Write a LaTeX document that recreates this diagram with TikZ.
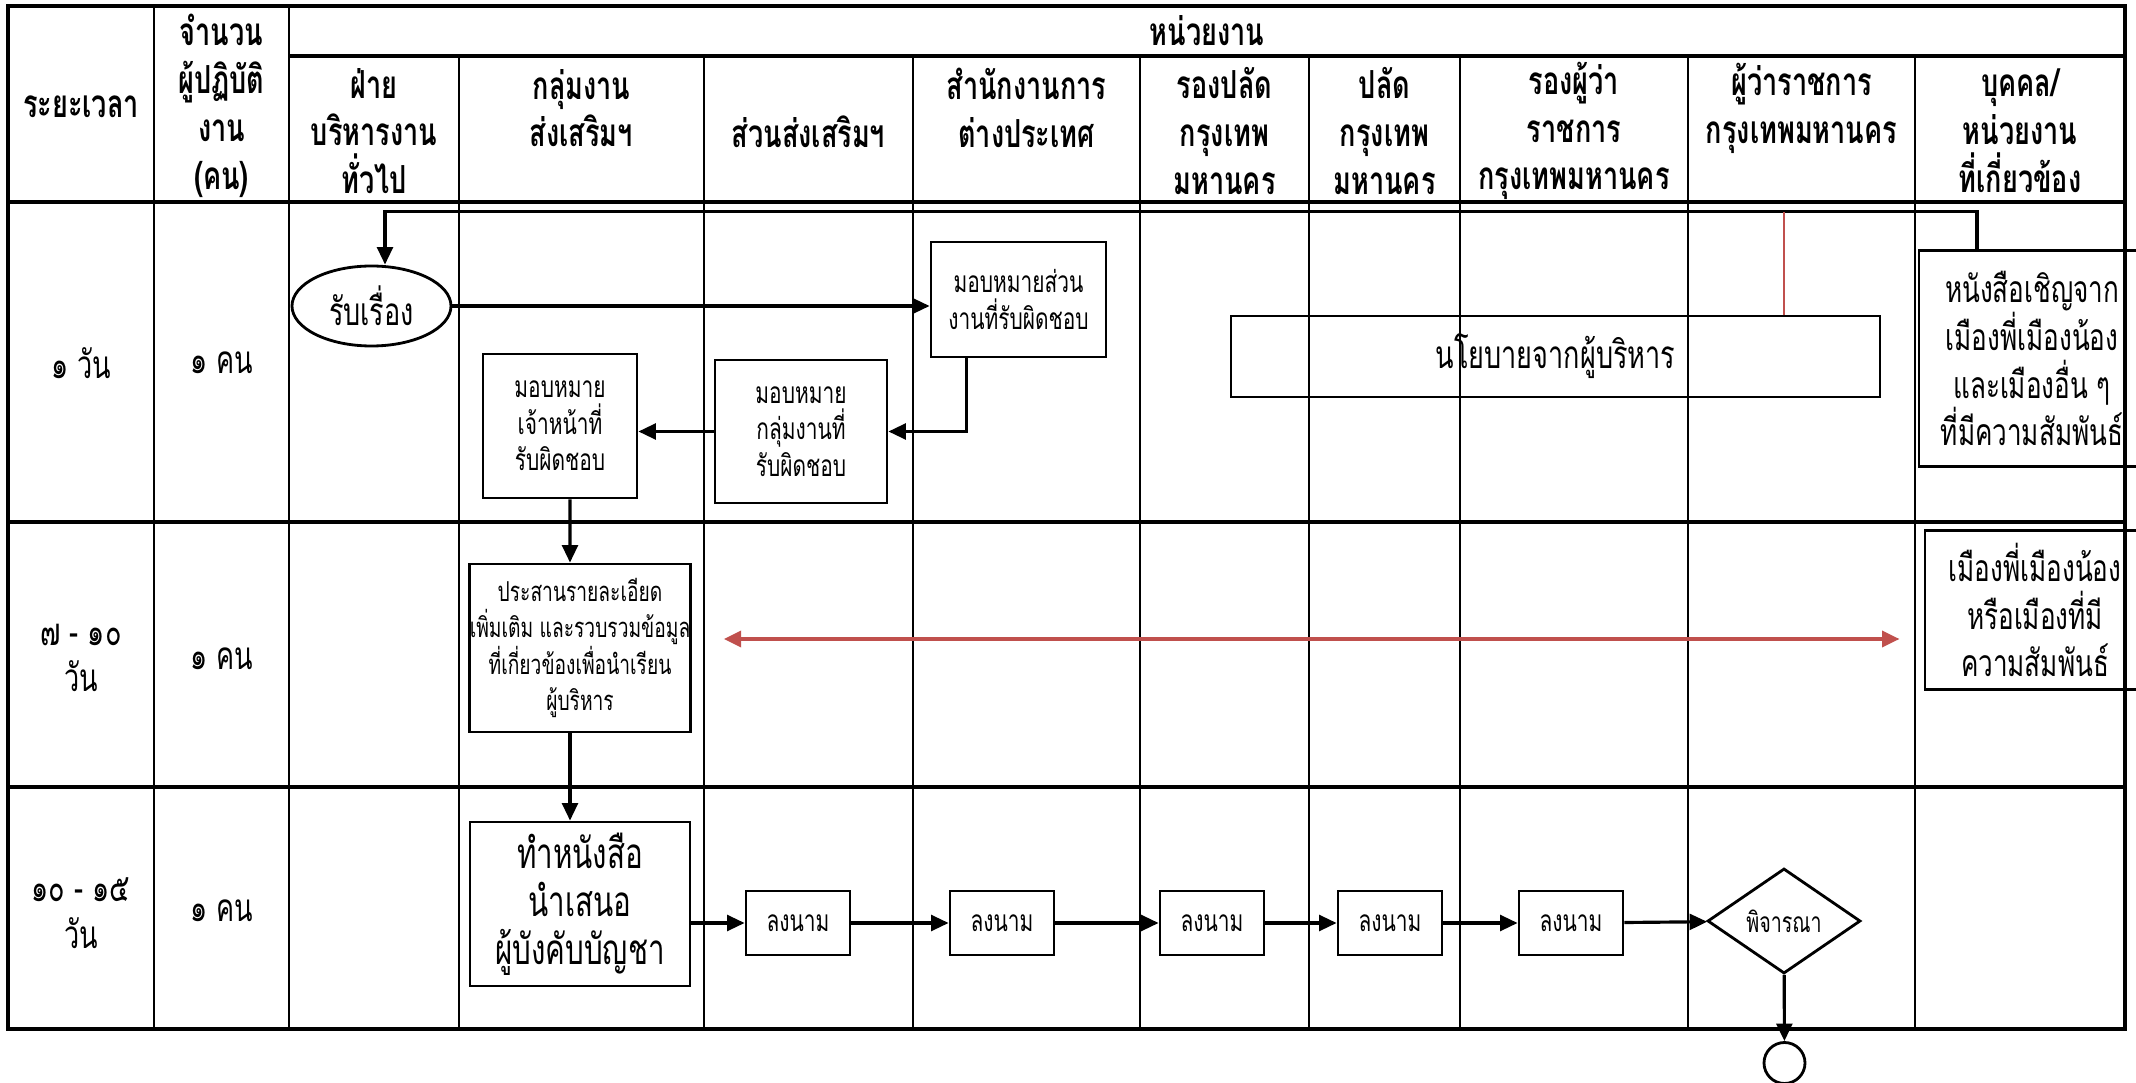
\documentclass[tikz,border=0pt]{standalone}
\usepackage{fontspec}
\setmainfont[Script=Thai,FakeStretch=0.70]{Loma}
\usetikzlibrary{arrows.meta,positioning,shapes.geometric}
\definecolor{linkred}{RGB}{192,80,77}

\begin{document}
\begin{tikzpicture}[
    box/.style={rectangle,draw,line width=0.8pt,align=center,inner sep=1pt},
    flow/.style={-{Triangle[length=5pt,width=4.5pt]},line width=0.9pt},
    redflow/.style={{Triangle[length=5pt,width=4.5pt]}-{Triangle[length=5pt,width=4.5pt]},linkred,line width=1.1pt},
    head/.style={font=\fontsize{11}{13.6}\selectfont\bfseries,align=center,inner sep=0pt},
    cell/.style={font=\fontsize{11}{13.2}\selectfont,align=center,inner sep=0pt},
    small/.style={font=\fontsize{8.5}{10.4}\selectfont},
    grid/.style={line width=0.6pt},
    frame/.style={line width=1.2pt}]

    \useasboundingbox (0,0) rectangle (21.36,-10.83);

    % Table frame and rows
    \draw[frame] (0.08,-0.06) rectangle (21.25,-10.29);
    \draw[frame] (2.89,-0.56) -- (21.25,-0.56);
    \draw[frame] (0.08,-2.02) -- (21.25,-2.02);
    \draw[frame] (0.08,-5.22) -- (21.25,-5.22);
    \draw[frame] (0.08,-7.87) -- (21.25,-7.87);

    % Columns
    \draw[grid] (1.54,-0.06) -- (1.54,-10.29);
    \draw[grid] (2.89,-0.06) -- (2.89,-10.29);
    \draw[grid] (4.59,-0.56) -- (4.59,-10.29);
    \draw[grid] (7.04,-0.56) -- (7.04,-10.29);
    \draw[grid] (9.13,-0.56) -- (9.13,-10.29);
    \draw[grid] (11.40,-0.56) -- (11.40,-10.29);
    \draw[grid] (13.09,-0.56) -- (13.09,-10.29);
    \draw[grid] (14.60,-0.56) -- (14.60,-10.29);
    \draw[grid] (16.88,-0.56) -- (16.88,-10.29);
    \draw[grid] (19.15,-0.56) -- (19.15,-10.29);

    % Header
    \node[head] (period) at (0.81,-1.07) {ระยะเวลา};
    \node[head] (staff) at (2.215,-1.06) {จำนวน\\ผู้ปฏิบัติ\\งาน\\(คน)};
    \node[head] (units) at (12.07,-0.31) {หน่วยงาน};
    \node[head] (dept1) at (3.74,-1.31) {ฝ่าย\\บริหารงาน\\ทั่วไป};
    \node[head] (dept2) at (5.815,-1.08) {กลุ่มงาน\\ส่งเสริมฯ};
    \node[head] (dept3) at (8.085,-1.32) {ส่วนส่งเสริมฯ};
    \node[head] (dept4) at (10.265,-1.08) {สำนักงานการ\\ต่างประเทศ};
    \node[head] (dept5) at (12.245,-1.31) {รองปลัด\\กรุงเทพ\\มหานคร};
    \node[head] (dept6) at (13.845,-1.31) {ปลัด\\กรุงเทพ\\มหานคร};
    \node[head] (dept7) at (15.74,-1.31) {รองผู้ว่า\\ราชการ\\กรุงเทพมหานคร};
    \node[head] (dept8) at (18.015,-1.08) {ผู้ว่าราชการ\\กรุงเทพมหานคร};
    \node[head] (dept9) at (20.20,-1.31) {บุคคล/\\หน่วยงาน\\ที่เกี่ยวข้อง};

    % Time and staff per row
    \node[cell] (day1) at (0.81,-3.63) {๑ วัน};
    \node[cell] (crew1) at (2.215,-3.63) {๑ คน};
    \node[cell] (day2) at (0.81,-6.58) {๗ - ๑๐\\วัน};
    \node[cell] (crew2) at (2.215,-6.59) {๑ คน};
    \node[cell] (day3) at (0.81,-9.13) {๑๐ - ๑๕\\วัน};
    \node[cell] (crew3) at (2.215,-9.11) {๑ คน};

    % Day 1
    \node[ellipse,draw,line width=0.8pt,minimum width=1.59cm,minimum height=0.80cm,inner sep=0pt,font=\fontsize{11}{13}\selectfont] (recv) at (3.715,-3.06) {รับเรื่อง};
    \node[box,small,minimum width=1.75cm,minimum height=1.15cm] (assignA) at (10.185,-2.995) {มอบหมายส่วน\\งานที่รับผิดชอบ};
    \node[box,small,minimum width=1.72cm,minimum height=1.43cm] (assignB) at (8.01,-4.315) {มอบหมาย\\กลุ่มงานที่\\รับผิดชอบ};
    \node[box,small,minimum width=1.54cm,minimum height=1.44cm] (assignC) at (5.60,-4.26) {มอบหมาย\\เจ้าหน้าที่\\รับผิดชอบ};
    \node[box,minimum width=6.49cm,minimum height=0.81cm,font=\fontsize{11}{13}\selectfont] (policy) at (15.555,-3.565) {นโยบายจากผู้บริหาร};
    \node[box,minimum width=2.26cm,minimum height=2.16cm,font=\fontsize{10.6}{13.6}\selectfont] (invite) at (20.32,-3.587) {หนังสือเชิญจาก\\เมืองพี่เมืองน้อง\\และเมืองอื่น ๆ\\ที่มีความสัมพันธ์};

    % Day 7 - 10
    \node[box,inner sep=0pt,minimum width=2.20cm,minimum height=1.68cm,font=\fontsize{7.8}{10.4}\selectfont] (coord) at (5.80,-6.48) {ประสานรายละเอียด\\เพิ่มเติม และรวบรวมข้อมูล\\ที่เกี่ยวข้องเพื่อนำเรียน\\ผู้บริหาร};
    \node[box,minimum width=2.20cm,minimum height=1.59cm,font=\fontsize{10.6}{13.4}\selectfont] (cities) at (20.35,-6.10) {เมืองพี่เมืองน้อง\\หรือเมืองที่มี\\ความสัมพันธ์};

    % Day 10 - 15
    \node[box,minimum width=2.20cm,minimum height=1.64cm,font=\fontsize{12}{13.6}\selectfont] (letter) at (5.80,-9.04) {ทำหนังสือ\\นำเสนอ\\ผู้บังคับบัญชา};
    \node[box,small,minimum width=1.04cm,minimum height=0.64cm] (sign1) at (7.98,-9.23) {ลงนาม};
    \node[box,small,minimum width=1.04cm,minimum height=0.64cm] (sign2) at (10.02,-9.23) {ลงนาม};
    \node[box,small,minimum width=1.04cm,minimum height=0.64cm] (sign3) at (12.12,-9.23) {ลงนาม};
    \node[box,small,minimum width=1.04cm,minimum height=0.64cm] (sign4) at (13.90,-9.23) {ลงนาม};
    \node[box,small,minimum width=1.04cm,minimum height=0.64cm] (sign5) at (15.71,-9.23) {ลงนาม};
    \node[diamond,draw,line width=0.8pt,minimum width=1.53cm,minimum height=1.05cm,inner sep=0pt,font=\fontsize{8}{10}\selectfont] (decide) at (17.84,-9.21) {พิจารณา};
    \node[circle,draw,line width=0.8pt,minimum size=0.41cm,inner sep=0pt] (endc) at (17.845,-10.63) {};

    % Invitation comes back to the start
    \coordinate (fbR) at (19.77,-2.117);
    \coordinate (fbL) at (3.85,-2.117);
    \draw[flow] (invite.north -| fbR) -- (fbR) -- (fbL) -- (fbL |- recv.north);
    \draw[linkred,line width=0.5pt] (policy.north -| decide) -- (fbL -| decide);

    % Flow arrows
    \draw[flow] (recv.east) -- (recv.east -| assignA.west);
    \draw[flow] ([xshift=-5.2mm]assignA.south) |- (assignB.east);
    \draw[flow] (assignB.west) -- (assignB.west -| assignC.east);
    \draw[flow] ([xshift=1mm]assignC.south) -- ([xshift=-1mm]coord.north);
    \draw[flow] ([xshift=-1mm]coord.south) -- ([xshift=-1mm]letter.north);
    \draw[redflow,shorten <=3.2mm,shorten >=2.4mm] ([yshift=0.9mm]coord.east) -- ([yshift=0.9mm]coord.east -| cities.west);
    \draw[flow] (letter.east |- sign1) -- (sign1);
    \draw[flow] (sign1) -- (sign2);
    \draw[flow] (sign2) -- (sign3);
    \draw[flow] (sign3) -- (sign4);
    \draw[flow] (sign4) -- (sign5);
    \draw[flow] (sign5) -- (decide);
    \draw[flow] (decide) -- (endc);
\end{tikzpicture}
\end{document}
